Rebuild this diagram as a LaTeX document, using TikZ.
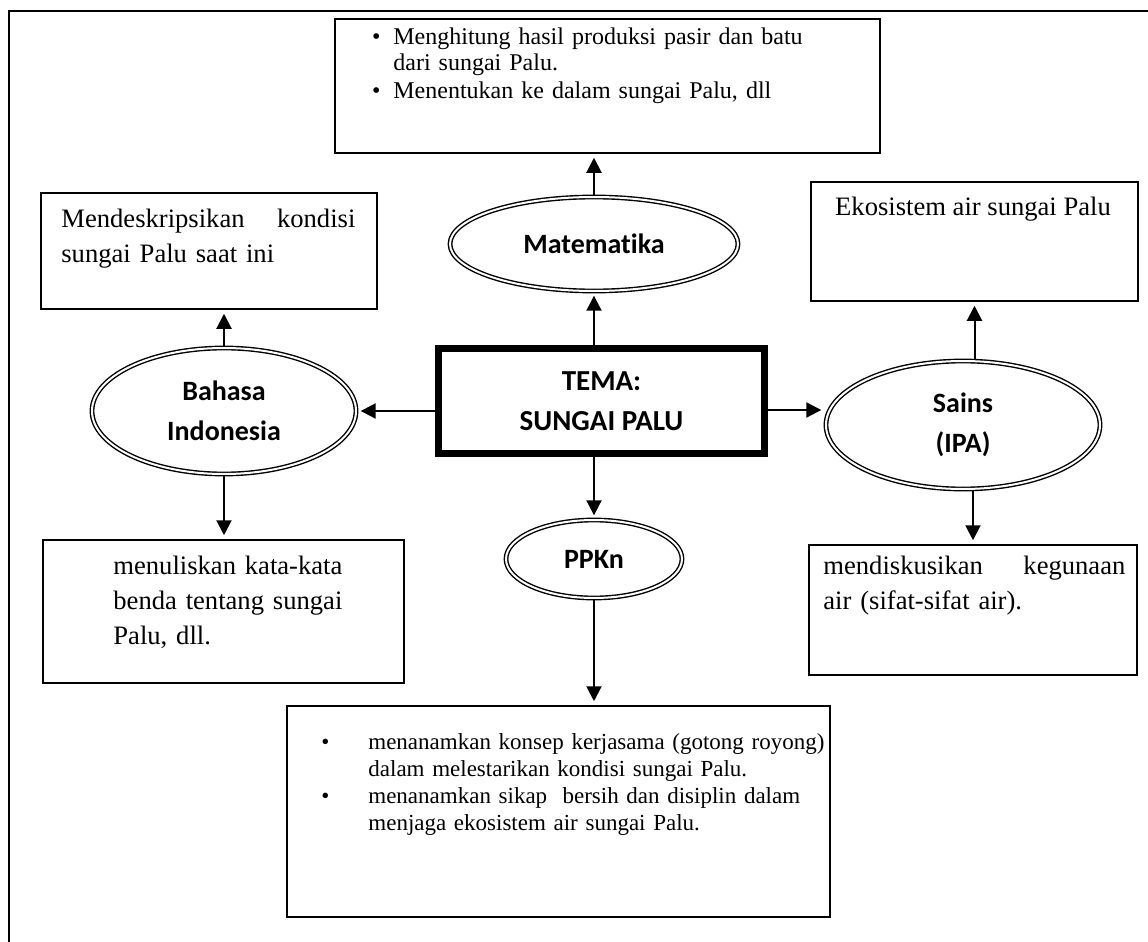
\documentclass[tikz,border=0pt]{standalone}
\usepackage{fontspec}
\setmainfont{Liberation Serif}
\newfontfamily\calibri[Ligatures=NoCommon]{Carlito}
\usetikzlibrary{shapes.geometric}
\usetikzlibrary{arrows.meta}
\usetikzlibrary{positioning}

\begin{document}
\begin{tikzpicture}[x=0.5pt,y=-0.5pt,
box/.style={draw,line width=0.75pt,rectangle,inner sep=0pt},
subj/.style={draw,ellipse,double,double distance=1pt,line width=0.7pt,inner sep=0pt,
  font=\calibri\bfseries\fontsize{14}{20}\selectfont,align=center},
txt/.style={inner sep=0pt,font=\fontsize{13.3}{17.5}\selectfont},
arr/.style={line width=1pt,-{Triangle[width=7.5pt,length=7.5pt]},shorten >=2pt}]
\useasboundingbox (0,0) rectangle (1148,942);
\draw[line width=1pt] (9,942) -- (9,11) -- (1148,11);

\node[draw,line width=3.5pt,minimum width=163pt,minimum height=52.5pt,inner sep=0pt,align=center,
  font=\calibri\bfseries\fontsize{14.5}{20}\selectfont] (tema) at (601.5,401) {TEMA:\\SUNGAI PALU};

\node[subj,minimum width=144pt,minimum height=47pt] (mat) at (594,244) {Matematika};
\node[subj,minimum width=132pt,minimum height=63pt] (bhs) at (224,411) {Bahasa\\Indonesia};
\node[subj,minimum width=137pt,minimum height=64pt] (ipa) at (963,425) {Sains\\(IPA)};
\node[subj,minimum width=88pt,minimum height=39pt] (ppkn) at (594,559) {PPKn};

\node[box,minimum width=272.5pt,minimum height=67pt] (mbox) at (607.5,86) {};
\node[txt,anchor=base west,text width=240pt,align=left,font=\fontsize{12}{12.6}\selectfont] (mtxt) at (393,45)
  {\llap{\textbullet\hspace{6.5pt}}Menghitung hasil produksi pasir dan batu\\dari sungai Palu.\\[1.5pt]
   \leavevmode\llap{\textbullet\hspace{6.5pt}}Menentukan ke dalam sungai Palu, dll};

\node[box,minimum width=168pt,minimum height=58pt] (bbox1) at (209,251) {};
\node[txt,anchor=base west,text width=147pt,align=left] (btxt1) at (61,227)
  {Mendeskripsikan \hfill kondisi\\sungai Palu saat ini};

\node[box,minimum width=180.5pt,minimum height=71.5pt] (bbox2) at (223.5,611.5) {};
\node[txt,anchor=base west,text width=150pt,align=left] (btxt2) at (113,574)
  {menuliskan kata-kata\\benda tentang sungai\\Palu, dll.};

\node[box,minimum width=163.5pt,minimum height=59.5pt] (ibox1) at (974.5,241.5) {};
\node[txt,anchor=base] (itxt1) at (973,215) {Ekosistem air sungai Palu};

\node[box,minimum width=164pt,minimum height=65pt] (ibox2) at (973,610) {};
\node[txt,anchor=base west,text width=151pt,align=left] (itxt2) at (823,574)
  {mendiskusikan \hfill kegunaan\\air (sifat-sifat air).};

\node[box,minimum width=271.5pt,minimum height=105.5pt] (pbox) at (558.5,811.5) {};
\node[txt,anchor=base west,text width=240pt,align=left,font=\fontsize{11.5}{13.5}\selectfont] (ptxt) at (368,749)
  {\llap{\textbullet\hspace{19.5pt}}menanamkan konsep kerjasama (gotong royong)\\dalam melestarikan kondisi sungai Palu.\\
   \leavevmode\llap{\textbullet\hspace{19.5pt}}menanamkan sikap \ bersih dan disiplin dalam\\menjaga ekosistem air sungai Palu.};

\draw[arr] (mat.north) -- (mat.north |- mbox.south);
\draw[arr] (tema.north -| mat.south) -- (mat.south);
\draw[arr] (tema.west |- bhs.east) -- (bhs.east);
\draw[arr] ([yshift=-4.5pt]tema.east) -- ([yshift=-4.5pt]tema.east -| ipa.west);
\draw[arr] (tema.south -| ppkn.north) -- (ppkn.north);
\draw[arr] (bhs.north) -- (bhs.north |- bbox1.south);
\draw[arr] (bhs.south) -- (bhs.south |- bbox2.north);
\draw[arr] (ipa.north -| ibox1.south) -- (ibox1.south);
\draw[arr] (ipa.south -| ibox2.north) -- (ibox2.north);
\draw[arr] (ppkn.south) -- (ppkn.south |- pbox.north);
\end{tikzpicture}
\end{document}
